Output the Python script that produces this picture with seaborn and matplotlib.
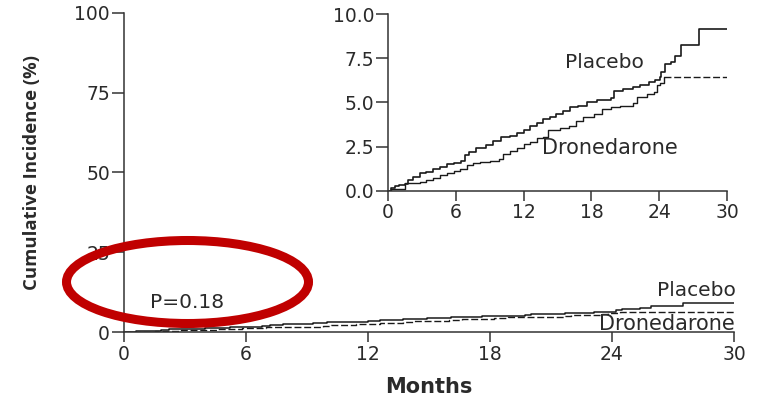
import matplotlib
matplotlib.use("Agg")
import matplotlib.pyplot as plt
import seaborn as sns
import pandas as pd
from matplotlib.patches import Ellipse

# ---------------- data ----------------
placebo_months = [0, 0.3, 0.6, 1.0, 1.5, 1.8, 2.2, 2.8, 3.4, 4.0, 4.6, 5.2, 5.8, 6.5, 6.8,
                  7.2, 7.8, 8.7, 9.3, 10.0, 10.8, 11.4, 12.0, 12.6, 13.2, 13.7, 14.3, 14.9,
                  15.5, 16.1, 16.8, 17.6, 18.5, 19.7, 20.0, 20.8, 21.7, 22.3, 23.1, 23.6,
                  24.1, 24.2, 24.5, 25.0, 25.4, 25.9, 27.5, 30.0]
placebo_pct = [0, 0.13, 0.26, 0.32, 0.38, 0.6, 0.8, 1.0, 1.08, 1.2, 1.35, 1.5, 1.58, 1.66, 2.02,
               2.2, 2.4, 2.58, 2.83, 3.02, 3.1, 3.25, 3.43, 3.66, 3.81, 4.04, 4.19, 4.34,
               4.51, 4.72, 4.8, 5.02, 5.13, 5.23, 5.66, 5.74, 5.85, 5.98, 6.17, 6.26,
               6.42, 6.74, 7.17, 7.3, 7.62, 8.25, 9.13, 9.13]

drone_months = [0, 0.3, 1.5, 2.1, 2.8, 3.4, 4.0, 4.6, 5.2, 5.8, 6.4, 7.0, 7.5, 8.1, 9.0, 9.8,
                10.2, 10.8, 11.4, 12.0, 12.6, 13.2, 13.7, 14.2, 15.2, 16.0, 16.6, 17.3, 18.2,
                18.9, 19.7, 20.5, 21.7, 22.0, 22.9, 23.5, 23.8, 24.1, 24.4]
drone_pct = [0, 0.08, 0.42, 0.45, 0.51, 0.6, 0.74, 0.89, 1.02, 1.13, 1.25, 1.45, 1.55, 1.64, 1.7,
             1.79, 2.08, 2.26, 2.4, 2.64, 2.77, 2.96, 3.06, 3.43, 3.53, 3.66, 3.96, 4.19, 4.34,
             4.6, 4.72, 4.81, 4.94, 5.28, 5.45, 5.6, 5.98, 6.11, 6.42]
drone_tail_months = [24.4, 30.0]
drone_tail_pct = [6.42, 6.42]

main_xticks = [0, 6, 12, 18, 24, 30]
main_yticks = [0, 25, 50, 75, 100]
inset_yticks = [0.0, 2.5, 5.0, 7.5, 10.0]
inset_yticklabels = ["0.0", "2.5", "5.0", "7.5", "10.0"]
p_value_text = "P=0.18"

# ---------------- styling ----------------
sns.set_theme(style="ticks")
FONT = ["DejaVu Sans"]
plt.rcParams["font.family"] = FONT
TXT = "#2a2a2a"
LINE = "#1a1a1a"
TICK_FS = 13.5
LAB_FS = 14.5

placebo_df = pd.DataFrame({"Months": placebo_months, "Pct": placebo_pct})
drone_main_df = pd.DataFrame({"Months": drone_months + drone_tail_months[1:],
                              "Pct": drone_pct + drone_tail_pct[1:]})
drone_inset_df = pd.DataFrame({"Months": drone_months, "Pct": drone_pct})
drone_tail_df = pd.DataFrame({"Months": drone_tail_months, "Pct": drone_tail_pct})

W, H = 757, 404
fig = plt.figure(figsize=(W / 100, H / 100), dpi=100)

def style_axes(ax, ylen, xlen):
    sns.despine(ax=ax)
    for s in ("left", "bottom"):
        ax.spines[s].set_color("#333333")
        ax.spines[s].set_linewidth(1.1)
    ax.tick_params(axis="y", direction="out", length=ylen, width=1.1, color="#333333",
                   labelsize=TICK_FS, labelcolor=TXT, pad=1)
    ax.tick_params(axis="x", direction="out", length=xlen, width=1.1, color="#333333",
                   labelsize=TICK_FS, labelcolor=TXT, pad=2)

# ---- main axes ----
ax = fig.add_axes([124 / W, 1 - 332 / H, (734 - 124) / W, (332 - 13) / H])
sns.lineplot(data=placebo_df, x="Months", y="Pct", ax=ax, color=LINE, lw=1.1,
             drawstyle="steps-post", estimator=None)
sns.lineplot(data=drone_main_df, x="Months", y="Pct", ax=ax, color=LINE, lw=1.0,
             drawstyle="steps-post", estimator=None, linestyle=(0, (5, 2)))
ax.set_xlim(0, 30)
ax.set_ylim(0, 100)
ax.set_xticks(main_xticks)
ax.set_yticks(main_yticks)
style_axes(ax, 9, 7)
ax.set_xlabel("Months", fontsize=15, fontweight="bold", color=TXT)
ax.xaxis.label.set_va("center")
ax.xaxis.set_label_coords(0.5, -(387 - 332) / 319)
ax.set_ylabel("Cumulative Incidence (%)", fontsize=13.3, fontweight="bold", color=TXT,
              family=["Open Sans", "DejaVu Sans"])
ax.yaxis.label.set_va("center")
ax.yaxis.set_label_coords((32 - 124) / 610, (332 - 172.5) / 319)
ax.text(30.1, 12.9, "Placebo", ha="right", va="center", fontsize=LAB_FS, color=TXT)
ax.text(30.05, 2.4, "Dronedarone", ha="right", va="center", fontsize=LAB_FS + 0.5, color=TXT)
ax.text(1.28, 9.1, p_value_text, ha="left", va="center", fontsize=LAB_FS, color=TXT)

# ---- inset axes ----
ins = fig.add_axes([388 / W, 1 - 190.7 / H, (727 - 388) / W, (190.7 - 14) / H])
ins.patch.set_alpha(0)
sns.lineplot(data=placebo_df, x="Months", y="Pct", ax=ins, color=LINE, lw=1.2,
             drawstyle="steps-post", estimator=None)
sns.lineplot(data=drone_inset_df, x="Months", y="Pct", ax=ins, color=LINE, lw=1.0,
             drawstyle="steps-post", estimator=None)
sns.lineplot(data=drone_tail_df, x="Months", y="Pct", ax=ins, color=LINE, lw=1.0,
             estimator=None, linestyle=(0, (5, 2)))
ins.set_xlim(0, 30)
ins.set_ylim(0, 10)
ins.set_xticks(main_xticks)
ins.set_yticks(inset_yticks)
ins.set_yticklabels(inset_yticklabels)
ins.set_xlabel("")
ins.set_ylabel("")
style_axes(ins, 9, 7)
ins.text(15.66, 7.23, "Placebo", ha="left", va="center", fontsize=LAB_FS, color=TXT)
ins.text(13.6, 2.4, "Dronedarone", ha="left", va="center", fontsize=LAB_FS + 0.5, color=TXT)

# ---- red highlight ellipse (annotation) ----
ell = Ellipse((187.5 / W, 1 - 282 / H), 242 / W, 83 / H, transform=fig.transFigure,
              fill=False, edgecolor="#c00000", linewidth=6.5, clip_on=False, zorder=10)
fig.add_artist(ell)

fig.savefig("out.png", dpi=100)
